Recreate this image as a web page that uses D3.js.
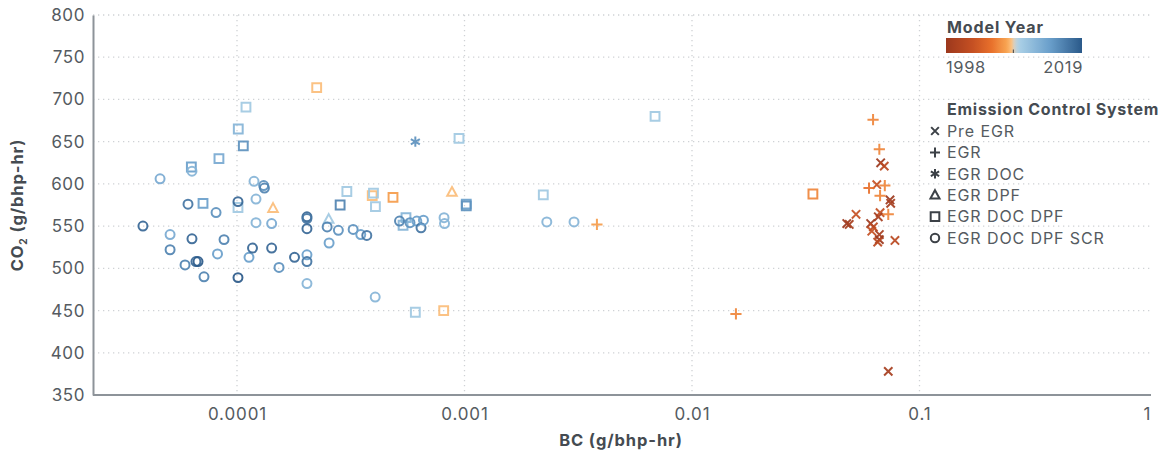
<!DOCTYPE html>
<html>
<head>
<meta charset="utf-8">
<script src="https://cdn.jsdelivr.net/npm/d3@7"></script>
<style>
  body { margin: 0; background: #fff; }
  svg { display: block; font-family: Inter, "Open Sans", sans-serif; }
</style>
</head>
<body>
<svg id="chart" width="1161" height="455"></svg>
<script>
// Each record: [BC (g/bhp-hr), CO2 (g/bhp-hr), model year]
const preEgr = [
  [0.0675, 625, 1998], [0.0700, 621, 2001], [0.0649, 599, 2002], [0.0742, 581, 1998],
  [0.0747, 577, 1999], [0.0526, 564, 2002], [0.0671, 566, 2002], [0.0659, 561, 1999],
  [0.0479, 553, 1998], [0.0491, 552, 1999], [0.0610, 553, 1998], [0.0627, 549, 2001],
  [0.0617, 544, 2002], [0.0666, 540, 1999], [0.0666, 534, 1998], [0.0780, 533, 2001],
  [0.0729, 378, 1999], [0.0655, 531, 2001]
];
const egr = [
  [0.00382, 552, 2007], [0.0156, 446, 2006], [0.0625, 676, 2006], [0.0666, 641, 2006],
  [0.0600, 595, 2005], [0.0704, 598, 2006], [0.0671, 586, 2006], [0.0729, 564, 2006]
];
const egrDoc = [
  [0.000608, 650, 2015]
];
const egrDpf = [
  [0.000144, 571, 2008], [0.000253, 558, 2010], [0.000881, 590, 2008]
];
const egrDocDpf = [
  [0.0000630, 620, 2014], [0.0000709, 577, 2014], [0.0000833, 630, 2013], [0.0001013, 665, 2012],
  [0.000101, 572, 2010], [0.0001066, 645, 2015], [0.0001095, 691, 2010], [0.000224, 714, 2008],
  [0.000284, 575, 2016], [0.000304, 591, 2010], [0.000393, 586, 2008], [0.000398, 589, 2010],
  [0.000406, 573, 2010], [0.000485, 584, 2007], [0.000537, 551, 2012], [0.000553, 560, 2012],
  [0.000608, 448, 2010], [0.000810, 450, 2008], [0.000946, 654, 2010], [0.001018, 576, 2014],
  [0.001018, 574, 2015], [0.00222, 587, 2010], [0.00688, 680, 2010], [0.0340, 588, 2006]
];
const egrDocDpfScr = [
  [0.0000386, 550, 2018], [0.0000459, 606, 2013], [0.0000508, 540, 2013], [0.0000508, 522, 2016],
  [0.0000591, 504, 2016], [0.0000609, 576, 2017], [0.0000634, 615, 2012], [0.0000634, 535, 2018],
  [0.0000660, 508, 2018], [0.0000674, 508, 2019], [0.0000716, 490, 2016], [0.0000809, 566, 2015],
  [0.0000821, 517, 2014], [0.0000877, 534, 2016], [0.000101, 579, 2018], [0.000101, 489, 2019],
  [0.0001129, 513, 2014], [0.000117, 524, 2018], [0.0001188, 603, 2012], [0.0001212, 582, 2012],
  [0.0001212, 554, 2012], [0.000131, 598, 2015], [0.000132, 595, 2016], [0.000142, 553, 2013],
  [0.000142, 524, 2018], [0.000153, 501, 2015], [0.000179, 513, 2018], [0.000203, 561, 2018],
  [0.000203, 559, 2017], [0.000203, 547, 2018], [0.000203, 516, 2014], [0.000203, 508, 2017],
  [0.000203, 482, 2012], [0.000249, 549, 2016], [0.000254, 530, 2014], [0.000279, 545, 2015],
  [0.000324, 546, 2015], [0.000350, 540, 2014], [0.000372, 539, 2017], [0.000405, 466, 2012],
  [0.000518, 556, 2016], [0.000576, 554, 2015], [0.000617, 556, 2014], [0.000644, 548, 2017],
  [0.000660, 557, 2014], [0.000813, 560, 2012], [0.000817, 553, 2012], [0.00230, 555, 2012],
  [0.00303, 555, 2012]
];

const systemNames = ["Pre EGR", "EGR", "EGR DOC", "EGR DPF", "EGR DOC DPF", "EGR DOC DPF SCR"];
const systemData = [preEgr, egr, egrDoc, egrDpf, egrDocDpf, egrDocDpfScr];
const yTicks = [350, 400, 450, 500, 550, 600, 650, 700, 750, 800];
const xTicks = [0.0001, 0.001, 0.01, 0.1, 1];
const xTickLabels = ["0.0001", "0.001", "0.01", "0.1", "1"];
const yearExtent = [1998, 2019];
// diverging model-year palette: brown/orange for older engines, blue for newer
const yearStops = [1998, 2002, 2005, 2007.4, 2008.3, 2008.6, 2009.4, 2014, 2019];
const yearColors = ["#9c381d", "#c44f22", "#e8702b", "#f8a552", "#fcc98e", "#c9d2d4", "#a9cfe6", "#6a9fcb", "#2a5989"];

const svg = d3.select("#chart");
const margin = { left: 93, right: 1147, top: 15, bottom: 395 };
const textColor = "#555b61";
const titleColor = "#454b51";

const x = d3.scaleLog().domain([Math.pow(10, -4 - 144 / 227.5), 1]).range([margin.left, margin.right]);
const y = d3.scaleLinear().domain([350, 800]).range([margin.bottom, margin.top]);
const color = d3.scaleLinear().domain(yearStops).range(yearColors).interpolate(d3.interpolateRgb).clamp(true);

// stroked marker shapes, size = radius in px
const shapes = [
  { draw(c, r) { const a = r * 0.8; c.moveTo(-a, -a); c.lineTo(a, a); c.moveTo(a, -a); c.lineTo(-a, a); } },
  { draw(c, r) { c.moveTo(-r, 0); c.lineTo(r, 0); c.moveTo(0, -r); c.lineTo(0, r); } },
  { draw(c, r) {
      for (let i = 0; i < 3; i++) {
        const t = Math.PI / 2 + i * Math.PI / 3;
        c.moveTo(Math.cos(t) * r, Math.sin(t) * r);
        c.lineTo(-Math.cos(t) * r, -Math.sin(t) * r);
      }
  } },
  { draw(c, r) { c.moveTo(0, -r * 1.05); c.lineTo(r * 0.95, r * 0.7); c.lineTo(-r * 0.95, r * 0.7); c.closePath(); } },
  { draw(c, r) { c.rect(-r * 0.9, -r * 0.9, r * 1.8, r * 1.8); } },
  { draw(c, r) { c.moveTo(r * 0.88, 0); c.arc(0, 0, r * 0.88, 0, 2 * Math.PI); } }
];
const markerR = [5.2, 5.6, 5.2, 5, 4.9, 5.1];

// grid
const grid = svg.append("g");
grid.selectAll("line.h").data(yTicks.slice(1)).join("line")
  .attr("x1", margin.left).attr("x2", 1150)
  .attr("y1", d => y(d)).attr("y2", d => y(d))
  .attr("stroke", "#cfd2d5").attr("stroke-width", 1.3).attr("stroke-dasharray", "1.3,3.7");
grid.selectAll("line.v").data(xTicks.slice(0, 4)).join("line")
  .attr("x1", d => x(d)).attr("x2", d => x(d))
  .attr("y1", margin.top).attr("y2", margin.bottom)
  .attr("stroke", "#cfd2d5").attr("stroke-width", 1.3).attr("stroke-dasharray", "1.3,3.7");

// axes
const yAxis = svg.append("g").attr("transform", `translate(${margin.left},0)`)
  .call(d3.axisLeft(y).tickValues(yTicks).tickSize(0).tickPadding(8));
yAxis.select(".domain").attr("stroke", "#8d9399").attr("stroke-width", 2);
yAxis.selectAll("text").attr("font-size", 17).attr("letter-spacing", 0.6)
  .attr("fill", textColor).attr("font-family", "Inter, sans-serif");

const xAxis = svg.append("g").attr("transform", `translate(0,${margin.bottom})`)
  .call(d3.axisBottom(x).tickValues(xTicks).tickFormat((d, i) => xTickLabels[i]).tickSize(0).tickPadding(13));
xAxis.select(".domain").attr("stroke", "#8d9399").attr("stroke-width", 2).attr("d", `M${margin.left},0H1151`);
xAxis.selectAll("text").attr("font-size", 17).attr("letter-spacing", 0.9)
  .attr("fill", textColor).attr("font-family", "Inter, sans-serif");

// axis titles
svg.append("text").attr("x", 621).attr("y", 446).attr("text-anchor", "middle")
  .attr("font-size", 16.5).attr("font-weight", 700).attr("letter-spacing", 0.9)
  .attr("fill", titleColor).text("BC (g/bhp-hr)");
const yt = svg.append("text").attr("transform", "translate(23,205) rotate(-90)").attr("text-anchor", "middle")
  .attr("font-size", 16.5).attr("font-weight", 700).attr("letter-spacing", 0.9).attr("fill", titleColor);
yt.append("tspan").text("CO");
yt.append("tspan").attr("font-size", 10).attr("dy", 4).text("2");
yt.append("tspan").attr("dy", -4).text(" (g/bhp-hr)");

// points
const plot = svg.append("g");
systemData.forEach((rows, si) => {
  plot.append("g").selectAll("path").data(rows).join("path")
    .attr("transform", d => `translate(${x(d[0])},${y(d[1])})`)
    .attr("d", d3.symbol().type(shapes[si]).size(markerR[si]))
    .attr("fill", "none")
    .attr("stroke", d => color(d[2]))
    .attr("stroke-width", 2)
    .attr("stroke-opacity", 0.92);
});

// legend: model year
const lg = svg.append("g");
const defs = svg.append("defs");
const grad = defs.append("linearGradient").attr("id", "yearGrad");
d3.range(0, 1.0001, 0.02).forEach(t => {
  grad.append("stop").attr("offset", t).attr("stop-color", color(yearExtent[0] + t * (yearExtent[1] - yearExtent[0])));
});
const gx0 = 946, gx1 = 1082;
lg.append("text").attr("x", 947).attr("y", 33).attr("font-size", 16).attr("font-weight", 700)
  .attr("letter-spacing", 0.9).attr("fill", titleColor).text("Model Year");
lg.append("rect").attr("x", gx0).attr("y", 38).attr("width", gx1 - gx0).attr("height", 15).attr("fill", "url(#yearGrad)");
const yearScale = d3.scaleLinear().domain(yearExtent).range([gx0, gx1]);
lg.append("line").attr("x1", yearScale(2008.4)).attr("x2", yearScale(2008.4)).attr("y1", 49.5).attr("y2", 53)
  .attr("stroke", "#444").attr("stroke-width", 1);
lg.append("text").attr("x", gx0).attr("y", 73).attr("font-size", 16.5).attr("letter-spacing", 0.6)
  .attr("fill", textColor).text(yearExtent[0]);
lg.append("text").attr("x", gx1 + 1).attr("y", 73).attr("text-anchor", "end").attr("font-size", 16.5)
  .attr("letter-spacing", 0.6).attr("fill", textColor).text(yearExtent[1]);

// legend: emission control system
lg.append("text").attr("x", 947).attr("y", 115).attr("font-size", 16).attr("font-weight", 700)
  .attr("letter-spacing", 0.75).attr("fill", titleColor).text("Emission Control System");
const rowY = d3.scaleLinear().domain([0, 5]).range([131, 238]);
systemNames.forEach((name, i) => {
  lg.append("path").attr("transform", `translate(935,${rowY(i)})`)
    .attr("d", d3.symbol().type(shapes[i]).size(i === 1 ? 5 : 4.8))
    .attr("fill", "none").attr("stroke", "#3c4147").attr("stroke-width", 2);
  lg.append("text").attr("x", 947).attr("y", rowY(i)).attr("dy", "0.36em")
    .attr("font-size", 16).attr("letter-spacing", 0.9).attr("fill", textColor).text(name);
});
</script>
</body>
</html>
